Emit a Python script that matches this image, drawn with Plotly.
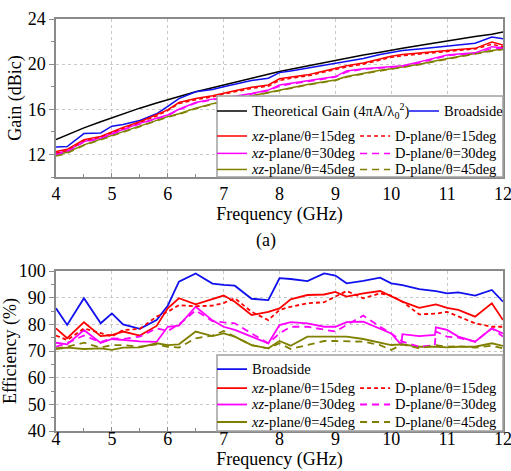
import plotly.graph_objects as go

# ---------------- data ----------------
freq = [4, 4.2, 4.5, 4.8, 5, 5.2, 5.5, 5.8, 6, 6.2, 6.5, 6.8, 7, 7.2, 7.5, 7.8, 8,
        8.2, 8.5, 8.8, 9, 9.2, 9.5, 9.8, 10, 10.2, 10.5, 10.8, 11, 11.2, 11.5, 11.8, 12]

# Gain (dBic)
gain_theory = [13.32, 13.75, 14.35, 14.9, 15.25, 15.6, 16.1, 16.55, 16.85, 17.15, 17.55, 17.9, 18.15,
               18.4, 18.75, 19.1, 19.35, 19.55, 19.85, 20.15, 20.35, 20.55, 20.8, 21.05, 21.25,
               21.4, 21.65, 21.9, 22.05, 22.2, 22.45, 22.65, 22.85]
gain_broad = [12.65, 12.7, 13.85, 13.9, 14.5, 14.65, 15.0, 15.6, 16.25, 16.95, 17.55, 17.75, 18.0,
              18.2, 18.55, 18.75, 19.25, 19.4, 19.65, 19.9, 20.1, 20.3, 20.5, 20.85, 21.05,
              21.2, 21.35, 21.5, 21.65, 21.75, 21.85, 22.4, 22.25]
gain_xz15 = [12.25, 12.45, 13.3, 13.6, 14.0, 14.4, 14.9, 15.5, 15.95, 16.6, 16.95, 17.2, 17.45,
             17.65, 17.95, 18.15, 18.7, 18.85, 19.05, 19.4, 19.65, 19.85, 20.1, 20.45, 20.7,
             20.85, 21.0, 21.1, 21.2, 21.3, 21.4, 21.95, 21.7]
gain_d15 = [12.1, 12.35, 13.2, 13.55, 13.95, 14.3, 14.85, 15.4, 15.9, 16.5, 16.85, 17.1, 17.35,
            17.55, 17.85, 18.05, 18.55, 18.75, 18.95, 19.3, 19.55, 19.75, 20.0, 20.35, 20.6,
            20.75, 20.9, 21.0, 21.1, 21.2, 21.35, 21.75, 21.55]
gain_xz30 = [12.1, 12.3, 13.15, 13.45, 13.85, 14.2, 14.75, 15.2, 15.5, 16.0, 16.6, 16.9, 17.0,
             17.15, 17.4, 17.7, 18.15, 18.3, 18.5, 18.75, 18.9, 19.4, 19.6, 19.7, 19.8,
             19.85, 20.2, 20.55, 20.8, 20.9, 21.0, 21.55, 21.45]
gain_d30 = [12.0, 12.25, 13.1, 13.4, 13.8, 14.15, 14.7, 15.15, 15.45, 15.95, 16.55, 16.85, 16.95,
            17.1, 17.35, 17.65, 18.05, 18.25, 18.45, 18.7, 18.85, 19.3, 19.55, 19.65, 19.75,
            19.8, 20.1, 20.45, 20.75, 20.85, 20.95, 21.4, 21.35]
gain_xz45 = [11.95, 12.2, 12.85, 13.35, 13.7, 14.0, 14.5, 15.0, 15.35, 15.6, 16.1, 16.5, 16.7,
             16.9, 17.25, 17.5, 17.75, 17.95, 18.2, 18.45, 18.6, 18.9, 19.2, 19.45, 19.6,
             19.75, 20.0, 20.3, 20.5, 20.7, 20.95, 21.2, 21.35]
gain_d45 = [11.85, 12.1, 12.8, 13.3, 13.65, 13.95, 14.45, 14.95, 15.3, 15.55, 16.05, 16.45, 16.65,
            16.85, 17.2, 17.45, 17.7, 17.9, 18.15, 18.4, 18.55, 18.85, 19.15, 19.4, 19.55,
            19.7, 19.95, 20.25, 20.45, 20.65, 20.9, 21.15, 21.3]

# Efficiency (%)
eff_broad = [86, 79.8, 89.8, 80.4, 84.1, 80, 78.3, 81.6, 87, 96, 99.1, 95.3, 94.8, 94.5, 89.6,
             89.1, 97.3, 97, 96.2, 99.1, 98.3, 95.4, 96.3, 97.5, 95.4, 94.7, 93.2, 92.5, 91.6,
             92, 90.8, 92.9, 88.5]
eff_xz15 = [78.5, 74.8, 80.8, 75.6, 76, 77.3, 75.8, 79.4, 86, 89.8, 87.5, 89.6, 90.8, 88.5, 83.5,
            84.7, 86, 89.4, 91, 91.2, 92.2, 90.4, 91.6, 92.5, 90.6, 88.5, 86.2, 87.5, 86.2,
            85.4, 82.9, 87.9, 81.6]
eff_d15 = [75.8, 74.1, 78.5, 76.8, 75.5, 77.9, 78.3, 82.9, 84.7, 87.2, 86.8, 87, 88, 89.8, 84.7,
           81.6, 85.4, 86.6, 87.9, 88.3, 90.4, 92.5, 89.8, 91.6, 90.8, 88.5, 83.75, 84, 84.7,
           82.9, 80.4, 79.1, 79.1]
freq_m30 = [4, 4.2, 4.5, 4.8, 5, 5.2, 5.5, 5.8, 6, 6.2, 6.5, 6.8, 7, 7.2, 7.5, 7.8, 8,
            8.2, 8.5, 8.8, 9, 9.2, 9.5, 9.8, 10, 10.18, 10.2, 10.5, 10.78, 10.8, 11, 11.2, 11.5, 11.8, 12]
eff_xz30 = [73.1, 72.5, 77.9, 73, 74.5, 74.1, 73.6, 73.4, 79.1, 79.5, 86.6, 81.5, 79.1, 77.9, 75.4,
            72.9, 79.75, 80.8, 80.4, 79.1, 79.1, 80.8, 81, 78.5, 76.6, 72.3, 76.3, 75.6, 76.0, 78.9,
            77.9, 75.4, 73.5, 78.5, 76.6]
eff_d30 = [71.6, 73, 75.8, 73.3, 74.75, 74.5, 75.4, 78.5, 77.5, 80, 85.2, 81.2, 80.75, 80.4, 76.6,
           72.9, 76.6, 79.1, 79.1, 77.9, 77.3, 79.75, 83.3, 79.1, 76.6, 73.8, 73.5, 71.6, 72.2, 77.3,
           75.4, 75, 73.5, 78.5, 75.4]
eff_xz45 = [70.75, 71.25, 70.75, 71, 70.4, 71.25, 71.4, 72.9, 72.2, 72.5, 77.3, 75.6, 76.6, 75.4,
            72.2, 71, 73.75, 72, 75.4, 75.4, 75.4, 75.4, 74.5, 73.25, 72.25, 72.5, 71.6, 71.6,
            71.4, 71.6, 71.6, 72.9, 71.9]
eff_d45 = [71, 71.6, 73.1, 71.25, 72.2, 72.2, 71.6, 72.5, 71.6, 71.3, 74.75, 75.8, 77.5, 75.4,
           72.2, 71, 72.9, 70.75, 72.2, 73.75, 73.75, 73.75, 73.5, 72.2, 70.4, 72.5, 71, 72.2,
           71.6, 71.8, 71.25, 72, 71]

FONT = "Liberation Serif, Times New Roman, serif"
LF = 14.5  # legend text size


def nm(s):
    return f'<span style="font-size:{LF}px">{s}</span>'


def fnt(size):
    return dict(family=FONT, size=size, color="black")


BLACK, BLUE, RED, MAG, OLV = "#000000", "#1010ee", "#ff0000", "#ff00ff", "#808000"
DSH_S = "4px,3px"
DSH_L = "7px,5px"

# legend anchor columns / rows (paper coords)
COL1, COL2, COL_BS = 0.349, 0.669, 0.7785
TOP_ROWS = [0.8120, 0.751, 0.709, 0.670]
BOT_ROWS = [0.1855, 0.1395, 0.0995, 0.0570]

fig = go.Figure()
legends = {}
lid = [0]


def new_legend(x, y):
    lid[0] += 1
    key = "legend" if lid[0] == 1 else f"legend{lid[0]}"
    legends[key] = dict(x=x, y=y)
    return key


# ---- top: gain ----
top = [
    (gain_theory, "Theoretical Gain (4πA/λ<sub>0</sub><sup>2</sup>)", BLACK, "solid", COL1, TOP_ROWS[0]),
    (gain_broad, "Broadside", BLUE, "solid", COL_BS, TOP_ROWS[0]),
    (gain_xz15, "<i>xz</i>-plane/θ=15deg", RED, "solid", COL1, TOP_ROWS[1]),
    (gain_xz30, "<i>xz</i>-plane/θ=30deg", MAG, "solid", COL1, TOP_ROWS[2]),
    (gain_xz45, "<i>xz</i>-plane/θ=45deg", OLV, "solid", COL1, TOP_ROWS[3]),
    (gain_d15, "D-plane/θ=15deg", RED, DSH_S, COL2, TOP_ROWS[1]),
    (gain_d30, "D-plane/θ=30deg", MAG, DSH_L, COL2, TOP_ROWS[2]),
    (gain_d45, "D-plane/θ=45deg", OLV, DSH_L, COL2, TOP_ROWS[3]),
]
for y, n, c, d, lx, ly in top:
    fig.add_trace(go.Scatter(x=freq, y=y, name=nm(n), mode="lines",
                             line=dict(color=c, width=1.5, dash=d),
                             xaxis="x", yaxis="y", legend=new_legend(lx, ly)))

# ---- bottom: efficiency ----
bot = [
    (freq, eff_broad, "Broadside", BLUE, "solid", COL1, BOT_ROWS[0]),
    (freq, eff_xz15, "<i>xz</i>-plane/θ=15deg", RED, "solid", COL1, BOT_ROWS[1]),
    (freq_m30, eff_xz30, "<i>xz</i>-plane/θ=30deg", MAG, "solid", COL1, BOT_ROWS[2]),
    (freq, eff_xz45, "<i>xz</i>-plane/θ=45deg", OLV, "solid", COL1, BOT_ROWS[3]),
    (freq, eff_d15, "D-plane/θ=15deg", RED, DSH_S, COL2, BOT_ROWS[1]),
    (freq_m30, eff_d30, "D-plane/θ=30deg", MAG, DSH_L, COL2, BOT_ROWS[2]),
    (freq, eff_d45, "D-plane/θ=45deg", OLV, DSH_L, COL2, BOT_ROWS[3]),
]
for x, y, n, c, d, lx, ly in bot:
    fig.add_trace(go.Scatter(x=x, y=y, name=nm(n), mode="lines",
                             line=dict(color=c, width=1.8, dash=d),
                             xaxis="x2", yaxis="y2", legend=new_legend(lx, ly)))

AX = "#8a8a8a"
GRID = "#c8c8c8"
common_x = dict(range=[4, 12], dtick=1, tick0=4, showline=True, linecolor=AX, linewidth=1.5,
                mirror=True, ticks="inside", ticklen=4, tickcolor=AX, tickwidth=1,
                minor=dict(dtick=0.5, ticks="inside", ticklen=3, tickcolor=AX, showgrid=False),
                showgrid=True, gridcolor=GRID, griddash="dot", gridwidth=1, zeroline=False,
                tickfont=fnt(18), automargin=False, ticklabeloverflow="allow",
                title=dict(text="Frequency (GHz)", font=fnt(18), standoff=0))
common_y = dict(showline=True, linecolor=AX, linewidth=1.5, mirror=True, ticks="outside",
                ticklen=5, tickcolor=AX, tickwidth=1, showgrid=True, gridcolor=GRID,
                griddash="dot", gridwidth=1, zeroline=False, automargin=False,
                tickfont=fnt(18))

TOP_D = [0.6165, 1.0]
BOT_D = [0.0, 0.3883]

leg_common = dict(bgcolor="rgba(0,0,0,0)", borderwidth=0, font=fnt(12),
                  itemwidth=30, xanchor="left", yanchor="top", orientation="v")
legend_layout = {k: dict(**leg_common, **v) for k, v in legends.items()}

fig.update_layout(
    width=511, height=471,
    margin=dict(l=56, r=8, t=19, b=40, autoexpand=False),
    paper_bgcolor="white", plot_bgcolor="white",
    font=fnt(14),
    xaxis=dict(**common_x, anchor="y", domain=[0, 1]),
    yaxis=dict(**common_y, domain=TOP_D, range=[10, 24], dtick=4, tick0=0,
               minor=dict(dtick=2, ticks="outside", ticklen=3, tickcolor=AX, showgrid=False),
               title=dict(text="Gain (dBic)", font=fnt(18), standoff=1)),
    xaxis2=dict(**common_x, anchor="y2", domain=[0, 1]),
    yaxis2=dict(**common_y, domain=BOT_D, range=[40, 100], dtick=10, tick0=0,
                minor=dict(dtick=5, ticks="outside", ticklen=3, tickcolor=AX, showgrid=False),
                title=dict(text="Efficiency (%)", font=fnt(18), standoff=0)),
    showlegend=True,
    shapes=[
        dict(type="rect", xref="paper", yref="paper", x0=0.3602, x1=1.0, y0=0.6165, y1=0.8131,
             fillcolor="white", line=dict(color="#a0a0a0", width=1.5), layer="above"),
        dict(type="rect", xref="paper", yref="paper", x0=0.3602, x1=1.0, y0=0.0, y1=0.1845,
             fillcolor="white", line=dict(color="#a0a0a0", width=1.5), layer="above"),
    ],
    annotations=[dict(text="(a)", x=0.4698, y=0.462, xref="paper", yref="paper",
                      showarrow=False, font=fnt(18),
                      xanchor="center", yanchor="middle")],
)
fig.update_layout(**legend_layout)
fig.update_xaxes(ticklabelstandoff=-9, selector=dict(anchor="y2"))

fig.write_html("out.html")
